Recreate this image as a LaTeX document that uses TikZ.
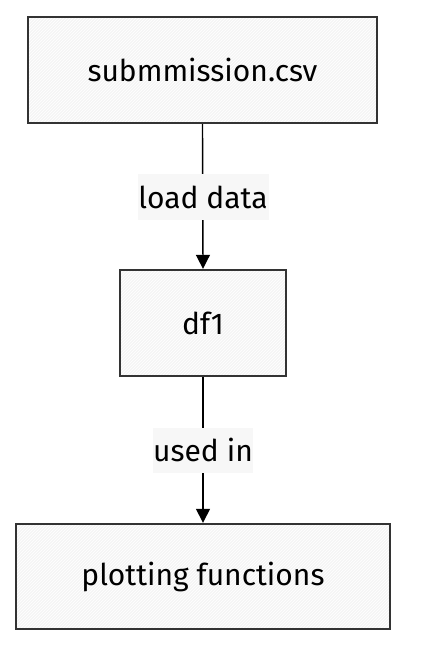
\documentclass[tikz,border=0pt]{standalone}
\usepackage{fontspec}
\setmainfont{Fira Sans}
\usetikzlibrary{arrows.meta,patterns}
\definecolor{boxfill}{HTML}{F5F5F5}
\definecolor{boxline}{HTML}{333333}
\definecolor{lblfill}{HTML}{F7F7F7}
\begin{document}
\begin{tikzpicture}[x=1pt,y=-1pt,
  box/.style={draw=boxline,line width=2.4pt,
    preaction={fill=boxfill},
    preaction={pattern=north east lines,pattern color=white},
    font=\fontsize{30}{33}\selectfont,text=black,inner sep=0pt},
  lbl/.style={fill=lblfill,font=\fontsize{30}{33}\selectfont,inner sep=0pt,text=black},
  conn/.style={draw=black,line width=1.4pt,-{Triangle[length=14pt,width=14pt]}}]
\useasboundingbox (0,0) rectangle (424,670);
\node[box,minimum width=349pt,minimum height=106pt] (csv) at (202.5,70) {submmission.csv};
\node[box,minimum width=166pt,minimum height=106pt] (df) at (203,323) {df1};
\node[box,minimum width=374pt,minimum height=105pt] (plot) at (203,576.5) {plotting functions};
\draw[conn] (csv.south) -- (df.north);
\draw[conn] (df.south) -- (plot.north);
\node[lbl,minimum width=131pt,minimum height=46pt] (l1) at (203,197) {load data};
\node[lbl,minimum width=100pt,minimum height=45pt] (l2) at (203,450) {used in};
\end{tikzpicture}
\end{document}
